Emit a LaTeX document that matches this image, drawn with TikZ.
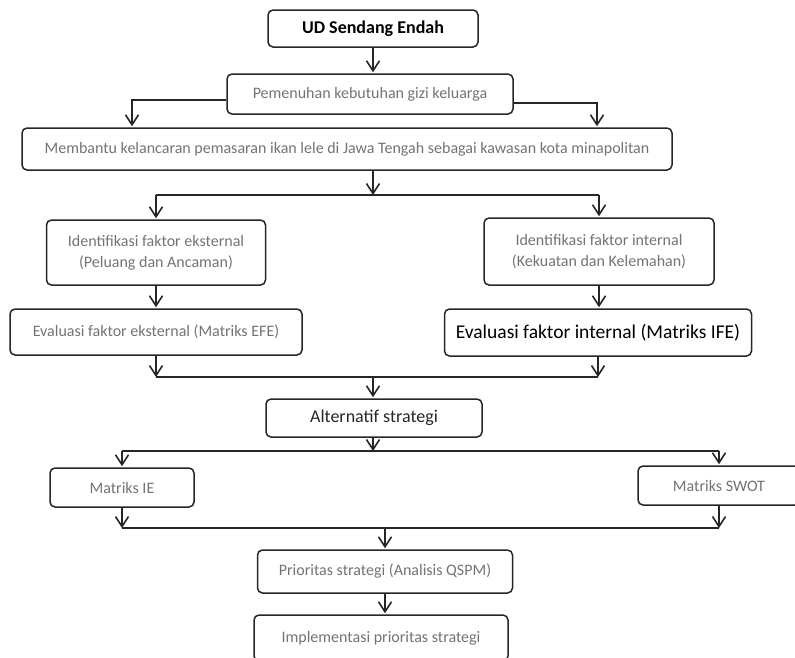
\documentclass[tikz,border=0pt]{standalone}
\usepackage{fontspec}
\setmainfont{Carlito}
\usetikzlibrary{arrows.meta}

\tikzset{
  box/.style={draw=black!85, line width=1.5pt, rounded corners=5pt, align=center,
    inner sep=0pt, text=black!55, font=\fontsize{16}{21}\selectfont},
  arr/.style={line width=1.6pt, draw=black!85, -{Straight Barb[length=10pt,width=13pt,line width=1.6pt]}, shorten >=1pt},
  ln/.style={line width=1.6pt, draw=black!85}
}

\begin{document}
\begin{tikzpicture}[x=1pt,y=-1pt]
\useasboundingbox (0,0) rectangle (795,657);
%\draw[help lines] (0,0) grid[step=50] (795,657);
\begin{scope}
\clip (0,0) rectangle (795,657);
\node[box, minimum width=210, minimum height=37, text=black, font=\fontsize{18}{21}\selectfont\bfseries] (ud) at (373,28.5) {UD Sendang Endah};
\node[box, minimum width=286, minimum height=40] (gizi) at (370,94) {Pemenuhan kebutuhan gizi keluarga};
\node[box, minimum width=650, minimum height=42] (bantu) at (347,149) {Membantu kelancaran pemasaran ikan lele di Jawa Tengah sebagai kawasan kota minapolitan};
\node[box, minimum width=219, minimum height=65] (idex) at (156,252.5) {Identifikasi faktor eksternal\\(Peluang dan Ancaman)};
\node[box, minimum width=230, minimum height=67] (idin) at (599,251.5) {Identifikasi faktor internal\\(Kekuatan dan Kelemahan)};
\node[box, minimum width=292, minimum height=46] (evex) at (156,332) {Evaluasi faktor eksternal (Matriks EFE)};
\node[box, minimum width=307, minimum height=47, text=black, font=\fontsize{19.5}{22}\selectfont] (evin) at (598,332.5) {Evaluasi faktor internal (Matriks IFE)};
\node[box, minimum width=216, minimum height=38, text=black!85, font=\fontsize{18}{21}\selectfont] (alt) at (374,418) {Alternatif strategi};
\node[box, minimum width=144, minimum height=39] (ie) at (122,487.5) {Matriks IE};
\node[box, minimum width=162, minimum height=39] (swot) at (719,485.5) {Matriks SWOT};
\node[box, minimum width=255, minimum height=43] (qspm) at (385,571.5) {Prioritas strategi (Analisis QSPM)};
\node[box, minimum width=254, minimum height=46] (impl) at (381,638) {Implementasi prioritas strategi};
\end{scope}

% alur atas
\draw[arr] (ud.south) -- (ud.south |- gizi.north);
\draw[arr] ([yshift=-6]gizi.west) -| ([xshift=-215]bantu.north);
\draw[arr] ([yshift=-9]gizi.east) -| ([xshift=250]bantu.north);

% cabang identifikasi
\coordinate (s1) at (373,195);
\draw[arr, shorten >=0pt] (s1 |- bantu.south) -- (s1);
\draw[ln] (s1 -| idex) -- (s1 -| idin);
\draw[arr] (s1 -| idex) -- (idex.north);
\draw[arr] (s1 -| idin) -- (idin.north);
\draw[arr] (idex.south) -- (evex.north -| idex);
\draw[arr] (idin.south) -- (evin.north -| idin);

% gabung ke alternatif
\coordinate (s2) at (373,377);
\draw[arr, shorten >=0pt] (evex.south) -- (s2 -| evex);
\draw[arr, shorten >=0pt] (evin.south) -- (s2 -| evin);
\draw[ln] (s2 -| evex) -- (s2 -| evin);
\draw[arr] (s2) -- (alt.north -| s2);

% cabang matriks
\coordinate (s3) at (373,451);
\draw[arr, shorten >=0pt] (alt.south -| s3) -- (s3);
\draw[ln] (s3 -| ie) -- (s3 -| swot);
\draw[arr] (s3 -| ie) -- (ie.north);
\draw[arr] (s3 -| swot) -- (swot.north);

% gabung ke prioritas
\coordinate (s4) at (385,528);
\draw[arr, shorten >=0pt] (ie.south) -- (s4 -| ie);
\draw[arr, shorten >=0pt] (swot.south) -- (s4 -| swot);
\draw[ln] (s4 -| ie) -- (s4 -| swot);
\draw[arr] (s4) -- (qspm.north -| s4);
\draw[arr] (qspm.south) -- (impl.north -| qspm);
\end{tikzpicture}
\end{document}
